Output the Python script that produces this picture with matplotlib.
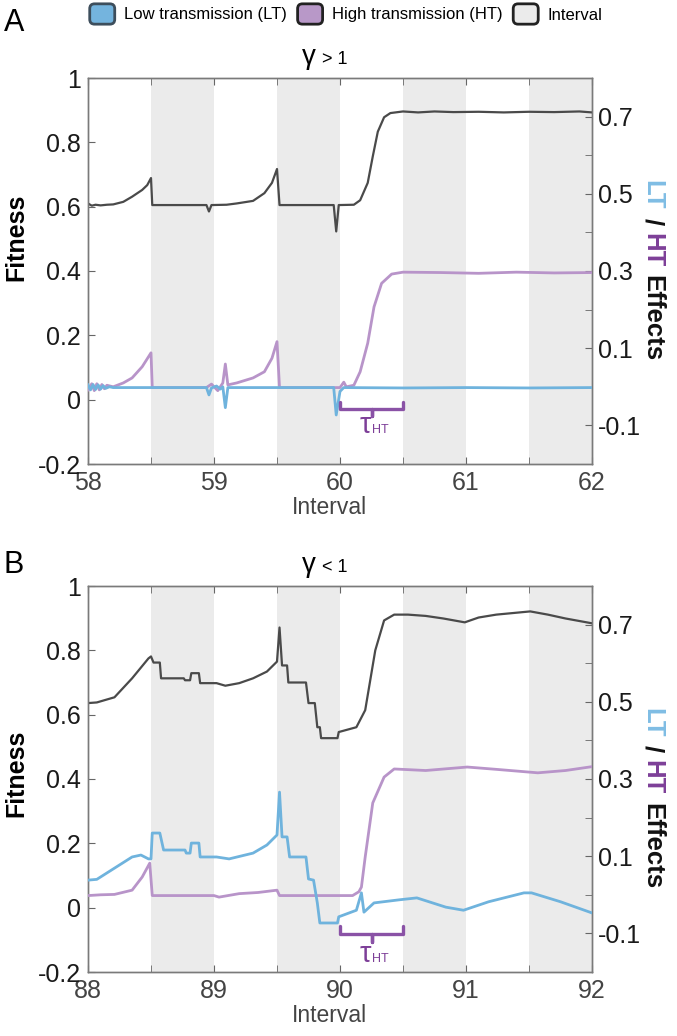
import matplotlib
matplotlib.use("Agg")
import matplotlib.pyplot as plt
from matplotlib.patches import Patch, FancyBboxPatch
from matplotlib.legend_handler import HandlerPatch

plt.rcParams['font.family'] = ['Liberation Sans', 'DejaVu Sans']
plt.rcParams['axes.unicode_minus'] = False

# ---- panel A (gamma > 1) ----
a_fit_x = [58.0, 58.03, 58.06, 58.1, 58.15, 58.2, 58.28, 58.35, 58.43, 58.47,
           58.5, 58.51, 58.7, 58.94, 58.96, 58.98, 59.1, 59.18, 59.31, 59.4,
           59.46, 59.5, 59.52, 59.7, 59.95, 59.97, 59.99, 60.11, 60.16, 60.22,
           60.26, 60.3, 60.35, 60.4, 60.5, 60.62, 60.75, 60.9, 61.1, 61.3, 61.5,
           61.7, 61.9, 62.0]
a_fit_y = [0.610, 0.603, 0.606, 0.604, 0.606, 0.607, 0.615, 0.631, 0.652, 0.667,
           0.689, 0.605, 0.605, 0.605, 0.585, 0.605, 0.606, 0.610, 0.618, 0.642,
           0.674, 0.717, 0.605, 0.605, 0.605, 0.523, 0.605, 0.606, 0.620, 0.674,
           0.756, 0.833, 0.878, 0.891, 0.896, 0.893, 0.896, 0.894, 0.895, 0.893,
           0.895, 0.894, 0.896, 0.893]

a_ht_x = [58.0, 58.03, 58.05, 58.07, 58.09, 58.11, 58.13, 58.15, 58.2, 58.28,
          58.35, 58.43, 58.5, 58.51, 58.94, 58.98, 59.03, 59.07, 59.09, 59.11,
          59.18, 59.31, 59.4, 59.46, 59.5, 59.52, 60.0, 60.03, 60.05, 60.11,
          60.16, 60.22, 60.27, 60.33, 60.41, 60.5, 60.8, 61.1, 61.4, 61.7, 62.0]
a_ht_y = [-0.008, 0.008, -0.010, 0.008, -0.008, 0.006, -0.005, 0.004, 0.0, 0.010,
          0.023, 0.052, 0.088, -0.002, -0.002, 0.007, -0.010, 0.010, 0.059, 0.005,
          0.010, 0.023, 0.039, 0.074, 0.117, -0.002, -0.002, 0.012, 0.0, 0.004,
          0.039, 0.113, 0.207, 0.268, 0.292, 0.297, 0.296, 0.294, 0.297, 0.295, 0.296]

a_lt_x = [58.0, 58.02, 58.04, 58.06, 58.08, 58.1, 58.12, 58.14, 58.17, 58.2,
          58.6, 58.94, 58.96, 58.98, 59.02, 59.05, 59.07, 59.09, 59.11, 59.2,
          59.6, 59.95, 59.97, 60.0, 60.03, 60.5, 61.0, 61.5, 62.0]
a_lt_y = [0.005, -0.008, 0.006, -0.007, 0.005, -0.006, 0.003, -0.004, 0.0, -0.002,
          -0.002, -0.002, -0.021, -0.003, 0.002, -0.006, 0.0, -0.054, -0.002, -0.002,
          -0.002, -0.002, -0.073, -0.012, -0.002, -0.003, -0.002, -0.003, -0.002]

a_bands = [(58.5, 59.0), (59.5, 60.0), (60.5, 61.0), (61.5, 62.0)]
a_xticks = [58, 59, 60, 61, 62]
a_tau = (60.0, 60.5)

# ---- panel B (gamma < 1) ----
b_fit_x = [88.0, 88.07, 88.21, 88.35, 88.48, 88.5, 88.52, 88.57, 88.58, 88.76,
           88.77, 88.81, 88.82, 88.88, 88.89, 89.02, 89.09, 89.2, 89.31, 89.42,
           89.5, 89.52, 89.54, 89.58, 89.59, 89.61, 89.73, 89.75, 89.8, 89.82,
           89.84, 89.85, 89.98, 89.99, 90.13, 90.2, 90.28, 90.35, 90.43, 90.54,
           90.68, 90.82, 90.99, 91.1, 91.24, 91.51, 91.65, 91.79, 92.0]
b_fit_y = [0.636, 0.638, 0.654, 0.713, 0.775, 0.781, 0.762, 0.762, 0.713, 0.713,
           0.707, 0.707, 0.729, 0.729, 0.698, 0.698, 0.690, 0.698, 0.713, 0.734,
           0.765, 0.871, 0.753, 0.753, 0.700, 0.700, 0.700, 0.636, 0.636, 0.561,
           0.561, 0.527, 0.527, 0.546, 0.561, 0.614, 0.800, 0.893, 0.911, 0.911,
           0.907, 0.899, 0.887, 0.902, 0.911, 0.921, 0.911, 0.899, 0.884]

b_ht_x = [88.0, 88.1, 88.21, 88.35, 88.43, 88.49, 88.51, 89.0, 89.04, 89.2,
          89.35, 89.5, 89.52, 90.1, 90.15, 90.17, 90.2, 90.26, 90.35, 90.43,
          90.68, 91.01, 91.24, 91.57, 91.79, 92.0]
b_ht_y = [-0.002, 0.0, 0.001, 0.012, 0.046, 0.082, -0.002, -0.002, -0.006, 0.003,
          0.006, 0.012, -0.002, -0.002, 0.008, 0.020, 0.098, 0.238, 0.305, 0.326,
          0.322, 0.331, 0.325, 0.316, 0.322, 0.332]

b_lt_x = [88.0, 88.07, 88.21, 88.35, 88.42, 88.48, 88.5, 88.51, 88.57, 88.6,
          88.77, 88.78, 88.81, 88.82, 88.88, 88.89, 89.02, 89.12, 89.31, 89.42,
          89.5, 89.52, 89.54, 89.58, 89.6, 89.73, 89.75, 89.79, 89.82, 89.84,
          89.98, 89.99, 90.13, 90.17, 90.19, 90.27, 90.47, 90.61, 90.84, 90.98,
          91.18, 91.46, 91.52, 91.75, 92.0]
b_lt_y = [0.038, 0.040, 0.069, 0.098, 0.103, 0.093, 0.093, 0.160, 0.160, 0.116,
          0.116, 0.108, 0.108, 0.134, 0.134, 0.098, 0.098, 0.093, 0.108, 0.129,
          0.155, 0.266, 0.150, 0.150, 0.098, 0.098, 0.041, 0.038, -0.021, -0.073,
          -0.073, -0.057, -0.040, 0.005, -0.045, -0.021, -0.013, -0.008, -0.032, -0.040,
          -0.018, 0.005, 0.005, -0.018, -0.047]

b_bands = [(88.5, 89.0), (89.5, 90.0), (90.5, 91.0), (91.5, 92.0)]
b_xticks = [88, 89, 90, 91, 92]
b_tau = (90.0, 90.5)

fit_ticks = [-0.2, 0, 0.2, 0.4, 0.6, 0.8, 1]
fit_labels = ['-0.2', '0', '0.2', '0.4', '0.6', '0.8', '1']
eff_ticks = [-0.1, 0.1, 0.3, 0.5, 0.7]
eff_labels = ['-0.1', '0.1', '0.3', '0.5', '0.7']
eff_minor = [0.0, 0.2, 0.4, 0.6]

legend_labels = ['Low transmission (LT)', 'High transmission (HT)', 'Interval']

BLUE = '#6fb3dd'
PURPLE = '#b894c9'
GRAY = '#4a4a4a'
BAND = '#ebebeb'
DPURPLE = '#7d3f98'
SPINE = '#7a7a7a'


class RoundPatchHandler(HandlerPatch):
    def create_artists(self, legend, orig_handle, xdescent, ydescent,
                       width, height, fontsize, trans):
        p = FancyBboxPatch((-xdescent, -ydescent), width, height,
                           boxstyle='round,pad=0,rounding_size=3.5',
                           facecolor=orig_handle.get_facecolor(),
                           edgecolor=orig_handle.get_edgecolor(),
                           linewidth=orig_handle.get_linewidth(),
                           transform=trans)
        return [p]


def effects_label(fig, ax, xfrac, yfrac, fontsize=18.5):
    # multi-coloured rotated "LT / HT Effects"
    pieces = [('LT', '#7fbde4'), ('/', '#111111'), ('HT', DPURPLE), ('Effects', '#111111')]
    renderer = fig.canvas.get_renderer()
    texts = []
    for s, c in pieces:
        t = ax.text(xfrac, 0.5, s, transform=ax.transAxes, rotation=-90,
                    color=c, fontsize=fontsize, fontweight='bold',
                    ha='center', va='top')
        texts.append(t)
    heights = [t.get_window_extent(renderer).height for t in texts]
    gap = 8
    total = sum(heights) + gap * (len(texts) - 1)
    bb = ax.bbox
    top = bb.y0 + yfrac * bb.height + total / 2
    for t, h in zip(texts, heights):
        t.set_position((xfrac, (top - bb.y0) / bb.height))
        top -= h + gap


def draw_panel(fig, rect, fit_x, fit_y, ht_x, ht_y, lt_x, lt_y, bands, xticks,
               tau, tau_levels, sign, fit_label_y, eff_label_y):
    ax = fig.add_axes(rect)
    for b0, b1 in bands:
        ax.axvspan(b0, b1, color=BAND, lw=0, zorder=0)
    ax.plot(fit_x, fit_y, color=GRAY, lw=1.6, zorder=3)
    ax.set_xlim(xticks[0], xticks[-1])
    ax.set_ylim(-0.2, 1.0)
    ax.set_xticks(xticks)
    ax.set_xticklabels([str(v) for v in xticks])
    ax.set_xticks([v + 0.5 for v in xticks[:-1]], minor=True)
    ax.set_yticks(fit_ticks)
    ax.set_yticklabels(fit_labels)
    ax.tick_params(axis='x', which='both', direction='in', top=True, length=5,
                   color='#666666', labelsize=18, labelcolor='#444444', pad=5)
    ax.tick_params(axis='y', direction='in', length=5, color='#666666',
                   labelsize=18, labelcolor='#1a1a1a', pad=5)

    ax2 = ax.twinx()
    ax2.set_ylim(-0.2, 0.8)
    ax2.plot(ht_x, ht_y, color=PURPLE, lw=2.0, zorder=3)
    ax2.plot(lt_x, lt_y, color=BLUE, lw=2.0, zorder=4)
    ax2.set_yticks(eff_ticks)
    ax2.set_yticklabels(eff_labels)
    ax2.set_yticks(eff_minor, minor=True)
    ax2.tick_params(axis='y', which='both', direction='in', length=5,
                    color='#666666', labelsize=18, labelcolor='#1a1a1a', pad=4)
    for a in (ax, ax2):
        for sp in a.spines.values():
            sp.set_color(SPINE)
            sp.set_linewidth(1.0)

    # tau_HT bracket
    t0, t1 = tau
    tm = (t0 + t1) / 2
    top, mid, tip, base = tau_levels
    ax2.plot([t0, t0, tm, tm, tm, t1, t1], [top, mid, mid, tip, mid, mid, top],
             color='#8a52a6', lw=2.4, solid_joinstyle='round',
             solid_capstyle='round', zorder=5)
    ax2.text(tm, base, 'τ', color=DPURPLE, fontsize=21, ha='right', va='baseline')
    ax2.text(tm + 0.005, base, 'HT', color=DPURPLE, fontsize=9, ha='left', va='baseline')

    # title
    ax.text(0.452, 1.035, 'γ', transform=ax.transAxes, fontsize=20,
            ha='right', va='baseline')
    ax.text(0.464, 1.035, sign + ' 1', transform=ax.transAxes, fontsize=13,
            ha='left', va='baseline')

    ax.text(-0.143, fit_label_y, 'Fitness', transform=ax.transAxes, rotation=90,
            fontsize=18, fontweight='bold', ha='center', va='center')
    ax.text(0.48, -0.113, 'Interval', transform=ax.transAxes, fontsize=16.5,
            color='#444444', ha='center', va='center')
    effects_label(fig, ax, 1.119, eff_label_y)
    return ax, ax2


fig = plt.figure(figsize=(6.77, 10.36), dpi=100)

W, H = 677.0, 1036.0
rect_a = [88 / W, (H - 464) / H, 504 / W, 386 / H]
rect_b = [88 / W, (H - 972) / H, 504 / W, 386 / H]

draw_panel(fig, rect_a, a_fit_x, a_fit_y, a_ht_x, a_ht_y, a_lt_x, a_lt_y,
           a_bands, a_xticks, a_tau, (-0.040, -0.058, -0.076, -0.120), '>',
           0.588, 0.5)
draw_panel(fig, rect_b, b_fit_x, b_fit_y, b_ht_x, b_ht_y, b_lt_x, b_lt_y,
           b_bands, b_xticks, b_tau, (-0.081, -0.102, -0.122, -0.174), '<',
           0.515, 0.45)

handles = [Patch(facecolor='#74b4de', edgecolor='#3d4e5c', linewidth=2),
           Patch(facecolor='#b898c8', edgecolor='#222222', linewidth=2),
           Patch(facecolor='#ebebeb', edgecolor='#222222', linewidth=2)]
fig.legend(handles, legend_labels, loc='center', bbox_to_anchor=(346 / W, 1 - 14 / H),
           ncol=3, frameon=False, fontsize=12, handlelength=1.5,
           handleheight=1.5, handletextpad=0.55, columnspacing=0.65,
           handler_map={Patch: RoundPatchHandler()})

fig.text(4 / W, 1 - 8 / H, 'A', fontsize=22, ha='left', va='top')
fig.text(4 / W, 1 - 550 / H, 'B', fontsize=22, ha='left', va='top')

fig.savefig('out.png', dpi=100)
